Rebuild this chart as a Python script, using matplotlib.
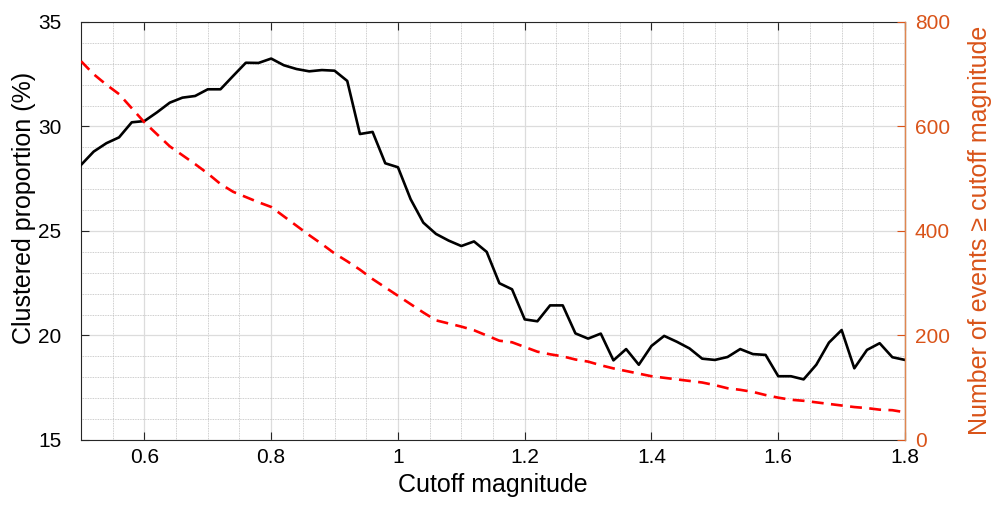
import matplotlib.pyplot as plt
import numpy as np
from matplotlib.ticker import FixedLocator, MultipleLocator

plt.rcParams['font.family'] = ['Liberation Sans', 'DejaVu Sans']

# cutoff magnitudes, step 0.02
cutoff = np.round(np.arange(0.5, 1.8001, 0.02), 2)

# proportion of clustered events (%) per cutoff
clustered = [28.16, 28.80, 29.20, 29.48, 30.20, 30.26, 30.68, 31.14, 31.38, 31.46,
             31.78, 31.78, 32.42, 33.05, 33.04, 33.25, 32.93, 32.75, 32.64, 32.70,
             32.67, 32.18, 29.64, 29.74, 28.24, 28.05, 26.52, 25.40, 24.86, 24.54,
             24.28, 24.50, 24.00, 22.50, 22.21, 20.77, 20.68, 21.44, 21.44, 20.10,
             19.85, 20.09, 18.81, 19.35, 18.60, 19.50, 19.98, 19.70, 19.38, 18.89,
             18.83, 18.97, 19.35, 19.11, 19.07, 18.05, 18.05, 17.90, 18.60, 19.66,
             20.26, 18.43, 19.31, 19.63, 18.96, 18.83]

# number of events at or above each cutoff
n_events = [725, 700, 680, 662, 635, 608, 585, 562, 545, 528,
            510, 490, 475, 465, 455, 446, 428, 410, 392, 375,
            357, 342, 326, 308, 292, 276, 260, 244, 229, 223,
            217, 210, 200, 190, 187, 178, 169, 164, 160, 154,
            150, 143, 137, 132, 127, 122, 119, 116, 113, 110,
            105, 99, 96, 92, 86, 81, 77, 75, 72, 69,
            66, 63, 61, 58, 57, 53]

xticks = [0.6, 0.8, 1.0, 1.2, 1.4, 1.6, 1.8]
xticklabels = ['0.6', '0.8', '1', '1.2', '1.4', '1.6', '1.8']

orange = '#D95319'
dark = '#262626'

fig = plt.figure(figsize=(9.93, 5.08), dpi=100)
ax = fig.add_axes([0.0816, 0.1339, 0.8298, 0.8228])
ax2 = ax.twinx()

ax.plot(cutoff, clustered, color='k', lw=1.9, zorder=3)
ax2.plot(cutoff, n_events, color='red', lw=1.9, ls=(0, (4.5, 2.8)))

# left axis
ax.set_xlim(0.5, 1.8)
ax.set_ylim(15, 35)
ax.xaxis.set_major_locator(FixedLocator(xticks))
ax.set_xticklabels(xticklabels)
ax.xaxis.set_minor_locator(MultipleLocator(0.05))
ax.yaxis.set_major_locator(MultipleLocator(5))
ax.yaxis.set_minor_locator(MultipleLocator(1))
ax.set_axisbelow(True)
ax.grid(which='major', color='#dcdcdc', lw=0.9)
ax.grid(which='minor', color='#bdbdbd', lw=0.6, ls=(0, (1, 1)))
ax.tick_params(axis='x', which='major', direction='in', length=6, width=0.8,
               top=True, labelsize=15, pad=6, colors=dark, labelcolor='black')
ax.tick_params(axis='y', which='major', direction='in', length=6, width=0.8,
               right=False, labelsize=15, pad=14, colors=dark, labelcolor='black')
ax.tick_params(which='minor', length=0)
for side in ['left', 'bottom', 'top']:
    ax.spines[side].set_color(dark)
    ax.spines[side].set_linewidth(0.8)

ax.set_xlabel('Cutoff magnitude', fontsize=18)
ax.xaxis.set_label_coords(0.5, -0.079)
ax.set_ylabel('Clustered proportion (%)', fontsize=18)
ax.yaxis.set_label_coords(-0.0546, 0.554)

# right axis
ax2.set_ylim(0, 800)
ax2.yaxis.set_major_locator(MultipleLocator(200))
ax2.tick_params(axis='y', direction='in', length=6, width=0.8, labelsize=15,
                pad=7, colors=orange)
for side in ['left', 'bottom', 'top']:
    ax2.spines[side].set_visible(False)
ax2.spines['right'].set_color('#E08650')
ax2.spines['right'].set_linewidth(1.0)
ax2.set_ylabel('Number of events ≥ cutoff magnitude', fontsize=18, color=orange)
ax2.yaxis.set_label_coords(1.0765, 0.502)

fig.savefig('out.png', dpi=100)
